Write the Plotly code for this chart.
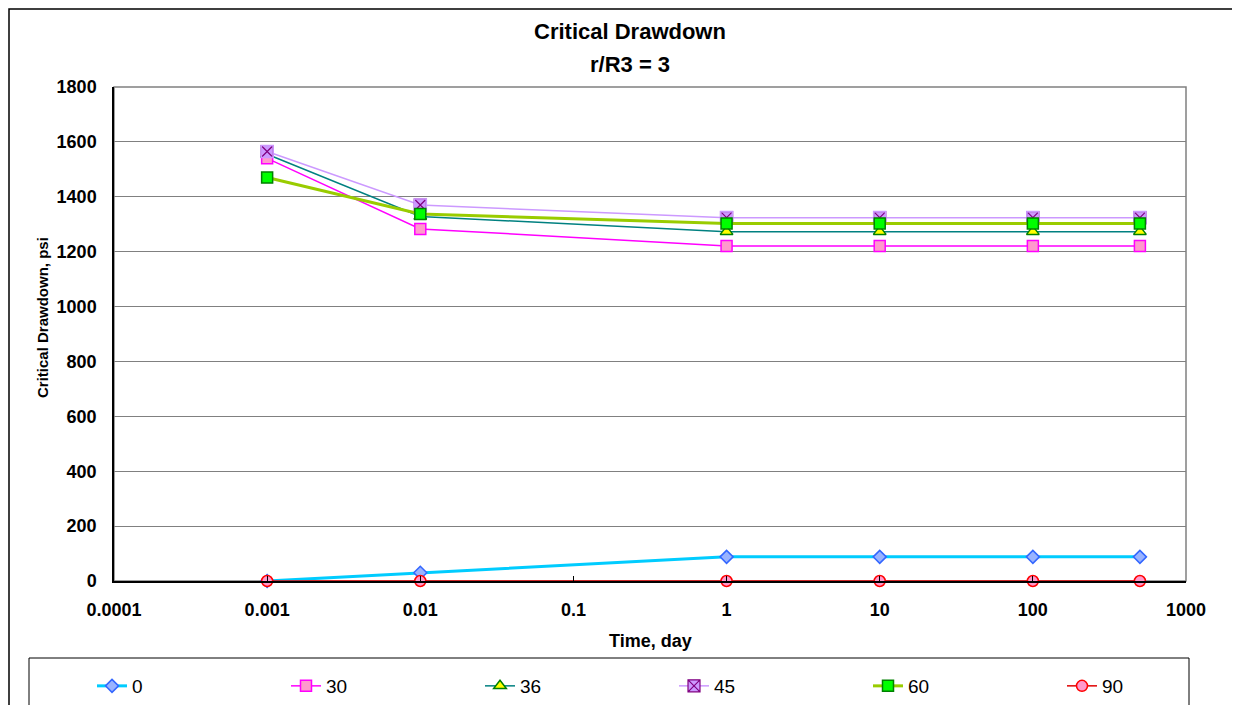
import plotly.graph_objects as go

# ---- data ----
time_days = [0.001, 0.01, 1, 10, 100, 500]
series_names = ["0", "30", "36", "45", "60", "90"]
angle_0 = [0, 30, 88, 88, 88, 88]
angle_30 = [1540, 1283, 1221, 1221, 1221, 1221]
angle_36 = [1555, 1328, 1273, 1273, 1273, 1273]
angle_45 = [1565, 1370, 1324, 1324, 1324, 1324]
angle_60 = [1470, 1337, 1303, 1303, 1303, 1303]
angle_90 = [0, 0, 0, 0, 0, 0]
x_tickvals = [0.0001, 0.001, 0.01, 0.1, 1, 10, 100, 1000]
x_ticktext = ["0.0001", "0.001", "0.01", "0.1", "1", "10", "100", "1000"]
chart_title = "Critical Drawdown"
chart_subtitle = "r/R3 = 3"
x_title = "Time, day"
y_title = "Critical Drawdown, psi"

FONT = "Liberation Sans, Arial, sans-serif"

styles = [
    dict(line=dict(color="#00CCFF", width=3),
         marker=dict(symbol="diamond", size=10, color="#99B3FF", line=dict(color="#3366FF", width=1.5))),
    dict(line=dict(color="#FF00FF", width=1.5),
         marker=dict(symbol="square", size=11, color="#FF99CC", line=dict(color="#FF00FF", width=1.5))),
    dict(line=dict(color="#008080", width=1.5),
         marker=dict(symbol="triangle-up", size=11, color="#FFFF00", line=dict(color="#008000", width=1.5))),
    dict(line=dict(color="#CC99FF", width=1.5),
         marker=dict(symbol="square-x", size=12, color="#CC99FF", line=dict(color="#800080", width=1.2))),
    dict(line=dict(color="#99CC00", width=3),
         marker=dict(symbol="square", size=11, color="#00FF00", line=dict(color="#008000", width=1.5))),
    dict(line=dict(color="#E00000", width=1.5),
         marker=dict(symbol="circle", size=11, color="#FF99CC", line=dict(color="#FF0000", width=1.5))),
]

values = [angle_0, angle_30, angle_36, angle_45, angle_60, angle_90]

fig = go.Figure()
for name, yv, st in zip(series_names, values, styles):
    fig.add_trace(go.Scatter(x=time_days, y=yv, name=name, mode="lines+markers",
                             line=st["line"], marker=st["marker"], cliponaxis=False,
                             legendgroup=name))
    if name == "45":
        # cover the dark square border so only the purple X remains on a lavender square
        fig.add_trace(go.Scatter(x=time_days, y=yv, mode="markers", showlegend=False,
                                 legendgroup=name, cliponaxis=False,
                                 marker=dict(symbol="square-open", size=12, color="#CC99FF",
                                             line=dict(color="#CC99FF", width=1.6))))

# page body has an 8px margin: work in screen coords and shift
OFF = 8
W, H = 1232, 697
L, R, T, B = 114 - OFF, 1186 - OFF, 87 - OFF, 581 - OFF
pw, ph = R - L, B - T


def px(x):
    return (x - OFF - L) / pw


def py(y):
    return (B - (y - OFF)) / ph


shapes = [
    # outer chart border
    dict(type="rect", xref="paper", yref="paper", x0=px(9), x1=px(1238), y0=py(712), y1=py(9),
         line=dict(color="black", width=1.5), layer="below"),
    # plot area border (grey)
    dict(type="rect", xref="paper", yref="paper", x0=0, x1=1, y0=0, y1=1,
         line=dict(color="#808080", width=1.5), layer="below"),
    # legend box
    dict(type="rect", xref="paper", yref="paper", x0=px(29), x1=px(1189), y0=py(712), y1=py(658),
         line=dict(color="black", width=1), layer="below"),
]

annotations = [
    dict(text=chart_title, xref="paper", yref="paper", x=px(630), y=py(32), showarrow=False,
         xanchor="center", yanchor="middle", font=dict(family=FONT, size=22, weight="bold", color="black")),
    dict(text=chart_subtitle, xref="paper", yref="paper", x=px(630), y=py(65), showarrow=False,
         xanchor="center", yanchor="middle", font=dict(family=FONT, size=22, weight="bold", color="black")),
    dict(text=x_title, xref="paper", yref="paper", x=px(650), y=py(641), showarrow=False,
         xanchor="center", yanchor="middle", font=dict(family=FONT, size=18, weight="bold", color="black")),
    dict(text=y_title, xref="paper", yref="paper", x=px(42), y=py(318), showarrow=False, textangle=-90,
         xanchor="center", yanchor="middle", font=dict(family=FONT, size=15, weight="bold", color="black")),
]

fig.update_layout(
    width=W, height=H,
    margin=dict(l=L, r=W - R, t=T, b=H - B, autoexpand=False),
    paper_bgcolor="white", plot_bgcolor="white",
    font=dict(family=FONT, color="black"),
    xaxis=dict(type="log", range=[-4, 3], tickvals=x_tickvals, ticktext=x_ticktext,
               showgrid=False, zeroline=False, showline=True, linecolor="black", linewidth=1.5,
               ticks="inside", ticklen=5, tickcolor="black",
               tickfont=dict(family=FONT, size=18, weight="bold"), ticklabelstandoff=12),
    yaxis=dict(range=[0, 1800], dtick=200, showgrid=True, gridcolor="#808080", gridwidth=1,
               zeroline=False, showline=True, linecolor="black", linewidth=1.5,
               ticks="", tickfont=dict(family=FONT, size=18, weight="bold"), ticklabelstandoff=12),
    legend=dict(orientation="h", x=px(92), xanchor="left", y=py(686), yanchor="middle",
                font=dict(family=FONT, size=19), bgcolor="rgba(0,0,0,0)",
                entrywidth=149, entrywidthmode="pixels", itemwidth=30),
    shapes=shapes,
    annotations=annotations,
    showlegend=True,
)

fig.write_html("out.html")
